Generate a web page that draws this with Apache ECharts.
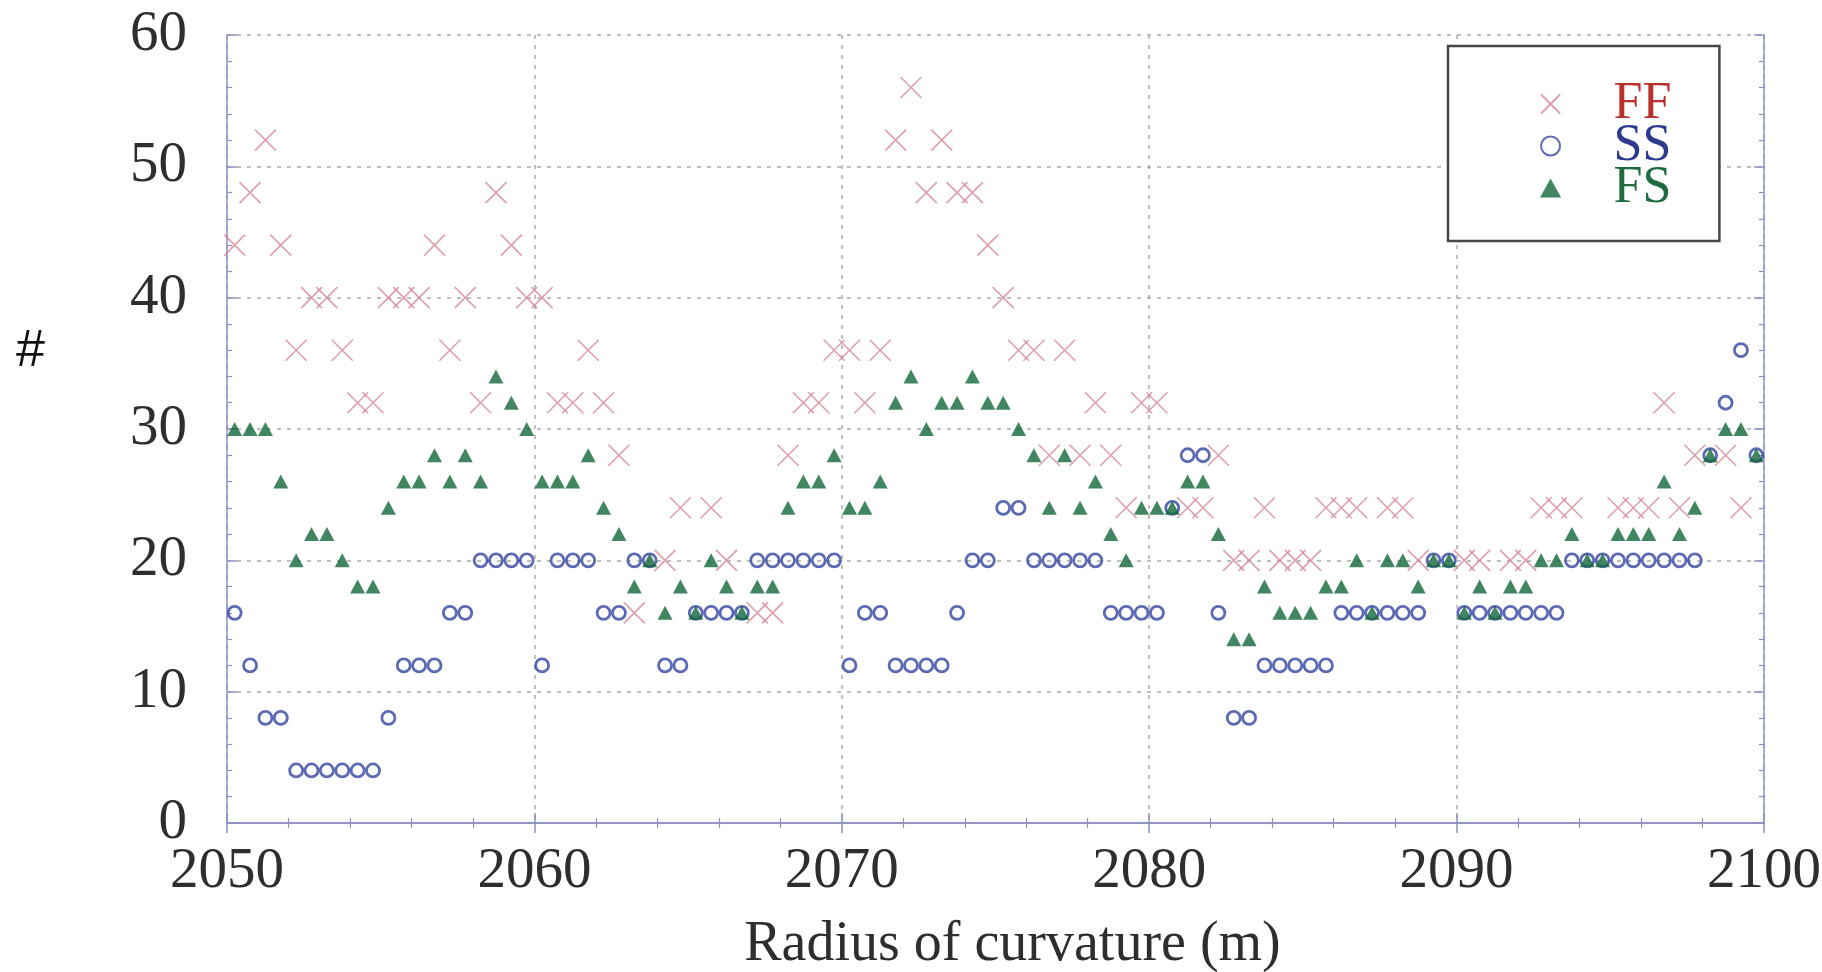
<!DOCTYPE html>
<html><head><meta charset="utf-8">
<script src="https://cdn.jsdelivr.net/npm/echarts@6/dist/echarts.min.js"></script>
<style>html,body{margin:0;padding:0;background:#fff}#c{width:1822px;height:972px}</style>
</head><body><div id="c"></div>
<script>
// Radius of curvature bin centres (m)
const radius = [
 2050.25,2050.75,2051.25,2051.75,2052.25,2052.75,2053.25,2053.75,2054.25,2054.75,
 2055.25,2055.75,2056.25,2056.75,2057.25,2057.75,2058.25,2058.75,2059.25,2059.75,
 2060.25,2060.75,2061.25,2061.75,2062.25,2062.75,2063.25,2063.75,2064.25,2064.75,
 2065.25,2065.75,2066.25,2066.75,2067.25,2067.75,2068.25,2068.75,2069.25,2069.75,
 2070.25,2070.75,2071.25,2071.75,2072.25,2072.75,2073.25,2073.75,2074.25,2074.75,
 2075.25,2075.75,2076.25,2076.75,2077.25,2077.75,2078.25,2078.75,2079.25,2079.75,
 2080.25,2080.75,2081.25,2081.75,2082.25,2082.75,2083.25,2083.75,2084.25,2084.75,
 2085.25,2085.75,2086.25,2086.75,2087.25,2087.75,2088.25,2088.75,2089.25,2089.75,
 2090.25,2090.75,2091.25,2091.75,2092.25,2092.75,2093.25,2093.75,2094.25,2094.75,
 2095.25,2095.75,2096.25,2096.75,2097.25,2097.75,2098.25,2098.75,2099.25,2099.75
];
const ffCounts = [
 44,48,52,44,36,40,40,36,32,32,
 40,40,40,44,36,40,32,48,44,40,
 40,32,32,36,32,28,16,null,20,24,
 null,24,20,null,16,16,28,32,32,36,
 36,32,36,52,56,48,52,48,48,44,
 40,36,36,28,36,28,32,28,24,32,
 32,null,24,24,28,20,20,24,20,20,
 20,24,24,24,null,24,24,20,null,null,
 20,20,null,20,20,24,24,24,null,null,
 24,24,24,32,24,28,null,28,24,null
];
const ssCounts = [
 16,12,8,8,4,4,4,4,4,4,
 8,12,12,12,16,16,20,20,20,20,
 12,20,20,20,16,16,20,20,12,12,
 16,16,16,16,20,20,20,20,20,20,
 12,16,16,12,12,12,12,16,20,20,
 24,24,20,20,20,20,20,16,16,16,
 16,24,28,28,16,8,8,12,12,12,
 12,12,16,16,16,16,16,16,20,20,
 16,16,16,16,16,16,16,20,20,20,
 20,20,20,20,20,20,28,32,36,28
];
const fsCounts = [
 30,30,30,26,20,22,22,20,18,18,
 24,26,26,28,26,28,26,34,32,30,
 26,26,26,28,24,22,18,20,16,18,
 16,20,18,16,18,18,24,26,26,28,
 24,24,26,32,34,30,32,32,34,32,
 32,30,28,24,28,24,26,22,20,24,
 24,24,26,26,22,14,14,18,16,16,
 16,18,18,20,16,20,20,18,20,20,
 16,18,16,18,18,20,20,22,20,20,
 22,22,22,26,22,24,28,30,30,28
];
const xTickStep = 10, yTickStep = 10;

const pair = (ys) => radius.map((x, i) => [x, ys[i]]);
const axisBlue = '#8d90c4';
const labelFont = {fontFamily: 'Liberation Serif', fontSize: 57, color: '#2e2e2e'};
const tickCfg = {show: true, inside: true, length: 10, lineStyle: {color: axisBlue, width: 1.5}};
const minorCfg = {show: true, splitNumber: 5, length: 5, lineStyle: {color: axisBlue, width: 1.2}};
const gridLine = {show: true, lineStyle: {color: '#ababab', type: [4, 6], width: 1.5}};

const chart = echarts.init(document.getElementById('c'), null, {renderer: 'canvas'});
chart.setOption({
  backgroundColor: '#ffffff',
  animation: false,
  grid: {left: 227, right: 58, top: 35, bottom: 149, show: false, containLabel: false, outerBoundsMode: 'none'},
  xAxis: [
    {type: 'value', min: 2050, max: 2100, interval: xTickStep, position: 'bottom',
     axisLine: {show: true, lineStyle: {color: axisBlue, width: 1.5}},
     axisTick: tickCfg, minorTick: minorCfg, splitLine: gridLine,
     axisLabel: Object.assign({margin: 21, formatter: (v) => String(v)}, labelFont),
     name: 'Radius of curvature (m)', nameLocation: 'middle', nameGap: 94,
     nameTextStyle: {fontFamily: 'Liberation Serif', fontSize: 56, color: '#2e2e2e', padding: [0, 0, 0, 34]}},
    {type: 'value', min: 2050, max: 2100, interval: xTickStep, position: 'top',
     axisLine: {show: true, lineStyle: {color: axisBlue, width: 1.5}},
     axisTick: tickCfg, minorTick: minorCfg, splitLine: {show: false},
     axisLabel: {show: false}}
  ],
  yAxis: [
    {type: 'value', min: 0, max: 60, interval: yTickStep, position: 'left',
     axisLine: {show: true, lineStyle: {color: axisBlue, width: 1.5}},
     axisTick: tickCfg, minorTick: minorCfg, splitLine: gridLine,
     axisLabel: Object.assign({margin: 40}, labelFont)},
    {type: 'value', min: 0, max: 60, interval: yTickStep, position: 'right',
     axisLine: {show: true, lineStyle: {color: axisBlue, width: 1.5}},
     axisTick: tickCfg, minorTick: minorCfg, splitLine: {show: false},
     axisLabel: {show: false}}
  ],
  legend: {
    orient: 'vertical', left: 1448, top: 46, padding: [32, 48, 27, 92],
    borderColor: '#474747', borderWidth: 2.5, backgroundColor: '#fff',
    itemWidth: 116, itemHeight: 19, itemGap: -10, selectedMode: false,
    textStyle: {fontFamily: 'Liberation Serif', fontSize: 52, lineHeight: 42},
    data: [
      {name: 'FF', textStyle: {color: '#b9302c'}},
      {name: 'SS', textStyle: {color: '#2d3a8e'}},
      {name: 'FS', icon: 'path://M5 0L10 9L0 9Z', textStyle: {color: '#1f6b40'}}
    ]
  },
  graphic: [
    {type: 'text', left: 16, top: 326, style: {text: '#', font: '52px "Liberation Sans"', fill: '#111'}}
  ],
  series: [
    {name: 'FF', type: 'scatter', data: pair(ffCounts), silent: true,
     symbol: 'path://M0 0L20 20M20 0L0 20', symbolSize: 21,
     itemStyle: {color: 'rgba(0,0,0,0)', borderColor: '#d4879a', borderWidth: 1.6}},
    {name: 'SS', type: 'scatter', data: pair(ssCounts), silent: true,
     symbol: 'circle', symbolSize: 13,
     itemStyle: {color: 'rgba(255,255,255,0)', borderColor: '#3343a0', borderWidth: 2.8}},
    {name: 'FS', type: 'scatter', data: pair(fsCounts), silent: true,
     symbol: 'triangle', symbolSize: [15, 14],
     itemStyle: {color: '#12683a'}}
  ]
});
</script>
</body></html>
